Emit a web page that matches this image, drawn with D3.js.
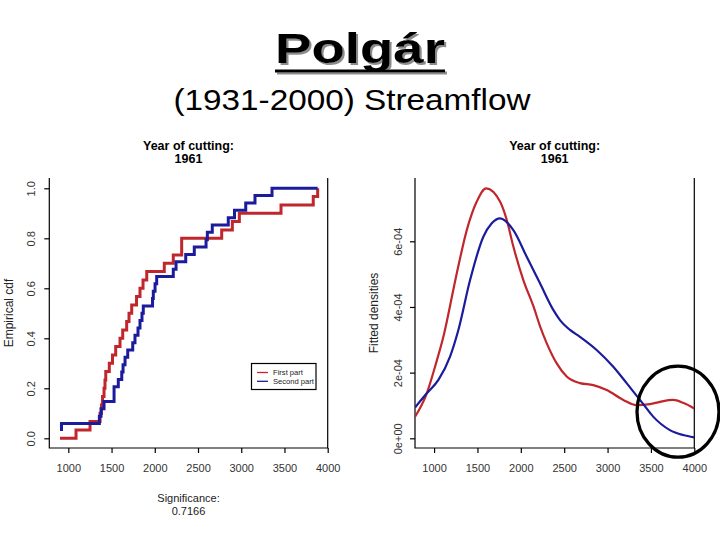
<!DOCTYPE html>
<html>
<head>
<meta charset="utf-8">
<script src="https://cdn.jsdelivr.net/npm/d3@7"></script>
<style>
    body { margin: 0; background: #fff; }
    text { font-family: "Liberation Sans", Arial, sans-serif; }
</style>
</head>
<body>
<svg id="chart" width="720" height="540"></svg>
<script>

// 1. Data

const xTicks = [1000, 1500, 2000, 2500, 3000, 3500, 4000];
const cdfTicks = [0, 0.2, 0.4, 0.6, 0.8, 1.0];
const cdfTickLabels = ["0.0", "0.2", "0.4", "0.6", "0.8", "1.0"];
const densTicks = [0, 2e-4, 4e-4, 6e-4];
const densTickLabels = ["0e+00", "2e-04", "4e-04", "6e-04"];

// empirical cdf, first part (red)
const firstCdfX = [904, 1089, 1251, 1367, 1384, 1396, 1413, 1424, 1433, 1474,
    1511, 1548, 1598, 1629, 1675, 1702, 1733, 1789, 1829, 1864,
    1907, 2110, 2214, 2311, 2774, 2897, 2978, 3460, 3833, 3884];
const firstCdfP = [0, 0.033, 0.067, 0.1, 0.133, 0.167, 0.2, 0.233, 0.267, 0.3,
    0.333, 0.367, 0.4, 0.433, 0.467, 0.5, 0.533, 0.567, 0.6, 0.633,
    0.667, 0.7, 0.733, 0.8, 0.833, 0.867, 0.9, 0.933, 0.967, 1.0];

// empirical cdf, second part (blue)
const secondCdfX = [921, 921, 1359, 1378, 1413, 1529, 1578, 1618, 1633, 1656,
    1687, 1745, 1771, 1806, 1829, 1852, 1867, 1974, 1983, 2003,
    2022, 2214, 2246, 2358, 2457, 2593, 2608, 2665, 2850, 2922,
    3052, 3159, 3356, 3884];
const secondCdfP = [0.029, 0.059, 0.088, 0.118, 0.147, 0.206, 0.235, 0.265, 0.294, 0.324,
    0.353, 0.382, 0.412, 0.441, 0.471, 0.5, 0.529, 0.559, 0.588, 0.618,
    0.647, 0.676, 0.706, 0.735, 0.765, 0.794, 0.824, 0.853, 0.882, 0.912,
    0.941, 0.971, 1.0, 1.0];

// fitted densities (x 1e-4)
const firstDensX = [781, 916, 1011, 1107, 1262, 1377, 1492, 1599, 1760, 1838,
    1914, 2029, 2144, 2221, 2298, 2414, 2529, 2682, 2835, 2990,
    3181, 3335, 3488, 3604, 3757, 3872, 3999];
const firstDensY = [0.66, 1.37, 2.18, 3.09, 5.03, 6.34, 7.21, 7.61, 7.21, 6.65,
    5.84, 4.82, 4.03, 3.42, 2.90, 2.28, 1.88, 1.68, 1.62, 1.47,
    1.17, 1.01, 1.04, 1.11, 1.17, 1.08, 0.91];
const secondDensX = [781, 916, 1050, 1184, 1280, 1415, 1568, 1665, 1760, 1914,
    2068, 2221, 2374, 2452, 2567, 2682, 2874, 3066, 3220, 3412,
    3526, 3719, 3872, 3999];
const secondDensY = [0.94, 1.37, 1.78, 2.49, 3.30, 4.82, 6.14, 6.55, 6.70, 6.34,
    5.53, 4.72, 3.91, 3.60, 3.30, 3.09, 2.69, 2.18, 1.68, 1.04,
    0.66, 0.25, 0.10, 0.03];

const seriesNames = ["First part", "Second part"];
const colors = ["#c0262c", "#1b1b9c"];

// 2. Dimensions

const left = {x0: 49.3, x1: 327.7, top: 178, bottom: 448};
const right = {x0: 415, x1: 694.3, top: 178, bottom: 448};

const svg = d3.select("#chart");
svg.append("rect").attr("width", 720).attr("height", 540).attr("fill", "#fff");

const defs = svg.append("defs");
defs.append("filter").attr("id", "shadow")
    .attr("x", "-10%").attr("y", "-10%").attr("width", "130%").attr("height", "130%")
    .append("feDropShadow")
        .attr("dx", 2).attr("dy", 2).attr("stdDeviation", 0.4)
        .attr("flood-color", "#8c8c8c").attr("flood-opacity", 1);

// 3. Titles

const title = svg.append("g").attr("filter", "url(#shadow)");
title.append("text")
    .attr("x", 360)
    .attr("y", 63)
    .attr("text-anchor", "middle")
    .attr("font-size", 42)
    .attr("font-weight", "bold")
    .attr("textLength", 170)
    .attr("lengthAdjust", "spacingAndGlyphs")
    .text("Polgár");
title.append("rect").attr("x", 275).attr("y", 69.5).attr("width", 170).attr("height", 3).attr("fill", "#000");

svg.append("text")
    .attr("x", 352)
    .attr("y", 110)
    .attr("text-anchor", "middle")
    .attr("font-size", 30)
    .attr("textLength", 357)
    .attr("lengthAdjust", "spacingAndGlyphs")
    .text("(1931-2000) Streamflow");

[left, right].forEach(p => {
    const cx = (p.x0 + p.x1) / 2;
    svg.append("text").attr("x", cx).attr("y", 150)
        .attr("text-anchor", "middle").attr("font-size", 12.5).attr("font-weight", "bold")
        .text("Year of cutting:");
    svg.append("text").attr("x", cx).attr("y", 163)
        .attr("text-anchor", "middle").attr("font-size", 12.5).attr("font-weight", "bold")
        .text("1961");
});

// 4. Scales

const xLeft = d3.scaleLinear().domain([780, 4000]).range([left.x0, left.x1]);
const yLeft = d3.scaleLinear().domain([0, 1]).range([438.3, 188.3]);
const xRight = d3.scaleLinear().domain([780, 4000]).range([right.x0, right.x1]);
const yRight = d3.scaleLinear().domain([0, 6e-4]).range([438.3, 241.3]);

// 5. Peripherals

function frame(p) {
    svg.append("path")
        .attr("d", `M${p.x0},${p.top}V${p.bottom}H${p.x1}V${p.top}`)
        .attr("stroke", "#000").attr("stroke-width", 1.2).attr("fill", "none");
}
frame(left);
frame(right);

function xAxis(scale, p) {
    const g = svg.append("g")
        .attr("transform", `translate(0,${p.bottom})`)
        .call(d3.axisBottom(scale).tickValues(xTicks).tickSize(5).tickSizeOuter(0)
            .tickPadding(11).tickFormat(d3.format("d")));
    g.select(".domain").remove();
    g.selectAll("line").attr("stroke-width", 1.2);
    g.selectAll("text").attr("font-size", 11).attr("fill", "#333")
        .attr("font-family", "'Liberation Sans', Arial, sans-serif");
}
xAxis(xLeft, left);
xAxis(xRight, right);

function yAxis(scale, p, ticks, labels, labelX) {
    const g = svg.append("g")
        .attr("transform", `translate(${p.x0},0)`)
        .call(d3.axisLeft(scale).tickValues(ticks).tickSize(5).tickSizeOuter(0)
            .tickFormat((d, i) => labels[i]));
    g.select(".domain").remove();
    g.selectAll("line").attr("stroke-width", 1.2);
    g.selectAll("text")
        .attr("x", null)
        .attr("transform", `translate(${labelX - p.x0},0) rotate(-90)`)
        .attr("dy", "0.35em")
        .attr("text-anchor", "middle")
        .attr("font-size", 11).attr("fill", "#333")
        .attr("font-family", "'Liberation Sans', Arial, sans-serif");
}
yAxis(yLeft, left, cdfTicks, cdfTickLabels, 31);
yAxis(yRight, right, densTicks, densTickLabels, 398);

const axisTitle = (x, y, txt, rot, size) => svg.append("text")
    .attr("transform", `translate(${x},${y})${rot ? " rotate(-90)" : ""}`)
    .attr("text-anchor", "middle").attr("font-size", size).attr("fill", "#222")
    .text(txt);
axisTitle(12.5, 313, "Empirical cdf", true, 12);
axisTitle(378, 313, "Fitted densities", true, 12);
axisTitle(188.5, 502, "Significance:", false, 11);
axisTitle(188.5, 515, "0.7166", false, 11);

// 6. Empirical cdf lines

const cdfLine = d3.line()
    .x(d => xLeft(d[0]))
    .y(d => yLeft(d[1]))
    .curve(d3.curveStepAfter);

[[firstCdfX, firstCdfP], [secondCdfX, secondCdfP]].forEach(([xs, ps], i) => {
    svg.append("path")
        .datum(xs.map((x, j) => [x, ps[j]]))
        .attr("d", cdfLine)
        .attr("fill", "none")
        .attr("stroke", colors[i])
        .attr("stroke-width", 3)
        .attr("stroke-linejoin", "miter");
});

// legend
const legend = svg.append("g");
legend.append("rect")
    .attr("x", 251.5).attr("y", 363.5).attr("width", 64.5).attr("height", 26)
    .attr("fill", "#fff").attr("stroke", "#000").attr("stroke-width", 1.2);
seriesNames.forEach((name, i) => {
    const y = 372.5 + i * 8.8;
    legend.append("line").attr("x1", 257).attr("x2", 268).attr("y1", y).attr("y2", y)
        .attr("stroke", colors[i]).attr("stroke-width", 1.3);
    legend.append("text").attr("x", 273).attr("y", y).attr("dy", "0.35em")
        .attr("font-size", 7.6).attr("fill", "#222").text(name);
});

// 7. Fitted density curves

defs.append("clipPath").attr("id", "clipR")
    .append("rect").attr("x", right.x0).attr("y", right.top)
    .attr("width", right.x1 - right.x0).attr("height", right.bottom - right.top);

const densLine = d3.line()
    .x(d => xRight(d[0]))
    .y(d => yRight(d[1] * 1e-4))
    .curve(d3.curveMonotoneX);

[[firstDensX, firstDensY], [secondDensX, secondDensY]].forEach(([xs, ys], i) => {
    svg.append("path")
        .datum(xs.map((x, j) => [x, ys[j]]))
        .attr("clip-path", "url(#clipR)")
        .attr("d", densLine)
        .attr("fill", "none")
        .attr("stroke", colors[i])
        .attr("stroke-width", 2.2);
});

// highlight ring around the upper tail
svg.append("ellipse")
    .attr("cx", xRight(3812))
    .attr("cy", yRight(0.81e-4))
    .attr("rx", 41)
    .attr("ry", 45.5)
    .attr("fill", "none")
    .attr("stroke", "#000")
    .attr("stroke-width", 3.3);

</script>
</body>
</html>
